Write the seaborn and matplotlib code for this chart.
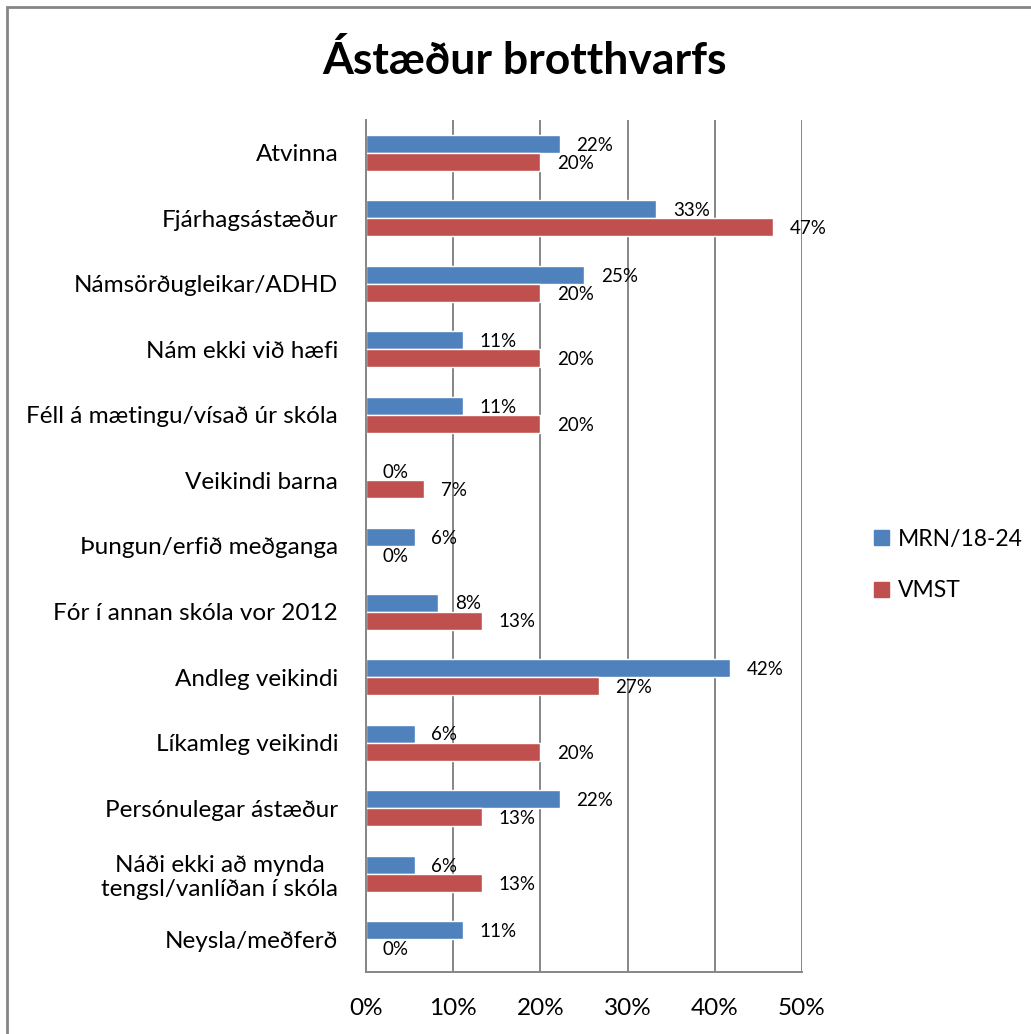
import matplotlib
matplotlib.use("Agg")
import matplotlib.pyplot as plt
import seaborn as sns
import pandas as pd
from matplotlib.patches import Rectangle

# ── data ─────────────────────────────────────────────────────
categories = [
    "Atvinna",
    "Fjárhagsástæður",
    "Námsörðugleikar/ADHD",
    "Nám ekki við hæfi",
    "Féll á mætingu/vísað úr skóla",
    "Veikindi barna",
    "Þungun/erfið meðganga",
    "Fór í annan skóla vor 2012",
    "Andleg veikindi",
    "Líkamleg veikindi",
    "Persónulegar ástæður",
    "Náði ekki að mynda\ntengsl/vanlíðan í skóla",
    "Neysla/meðferð",
]
mrn = [22.2, 33.3, 25.0, 11.1, 11.1, 0.0, 5.6, 8.3, 41.7, 5.6, 22.2, 5.6, 11.1]
vmst = [20.0, 46.7, 20.0, 20.0, 20.0, 6.7, 0.0, 13.3, 26.7, 20.0, 13.3, 13.3, 0.0]
series = ["MRN/18-24", "VMST"]
colors = ["#4F81BD", "#C0504D"]
x_ticks = [0, 10, 20, 30, 40, 50]

df = pd.DataFrame({
    "cat": categories * 2,
    "val": mrn + vmst,
    "series": [series[0]] * len(categories) + [series[1]] * len(categories),
})

# ── style ────────────────────────────────────────────────────
sns.set_theme(style="white")
plt.rcParams["font.family"] = ["Lato", "DejaVu Sans"]
plt.rcParams["text.color"] = "black"
plt.rcParams["xtick.color"] = "black"
plt.rcParams["ytick.color"] = "black"

fig = plt.figure(figsize=(10.31, 10.34), dpi=100)
ax = fig.add_axes([366 / 1031, 1 - 972 / 1034, (802 - 366) / 1031, (972 - 120) / 1034])

sns.barplot(data=df, y="cat", x="val", hue="series", order=categories,
            hue_order=series, palette=colors, width=0.55, orient="h",
            saturation=1, ax=ax, legend=True)

ax.set_xlim(0, 50)
ax.set_xticks(x_ticks)
ax.set_xticklabels([f"{t}%" for t in x_ticks], fontsize=17.5)
ax.tick_params(axis="x", length=0, pad=19)
ax.tick_params(axis="y", length=0, pad=20, labelsize=17.5)
for lbl in ax.get_yticklabels():
    lbl.set_multialignment("center")
ax.set_xlabel("")
ax.set_ylabel("")

ax.grid(axis="x", color="#868686", linewidth=1.4)
ax.set_axisbelow(True)
for side in ["top", "right"]:
    ax.spines[side].set_visible(False)
for side in ["left", "bottom"]:
    ax.spines[side].set_color("#868686")
    ax.spines[side].set_linewidth(1.4)

# data labels
for cont in ax.containers:
    for bar in cont:
        w = bar.get_width()
        yc = bar.get_y() + bar.get_height() / 2
        ax.annotate(f"{round(w):.0f}%", (w, yc), xytext=(12, -1),
                    textcoords="offset points", ha="left", va="center",
                    fontsize=13.5, color="black")

# legend
ax.legend_.remove()
handles = [Rectangle((0, 0), 1, 1, color=c) for c in colors]
fig.legend(handles, series, loc="center left",
           bbox_to_anchor=(865 / 1031, 1 - 565 / 1034), frameon=False,
           fontsize=16.5, handlelength=0.65, handleheight=0.65,
           handletextpad=0.4, labelspacing=1.35, borderaxespad=0)

fig.text(524 / 1031, 1 - 60 / 1034, "Ástæður brotthvarfs", ha="center",
         va="center", fontsize=32, fontweight="bold", color="black")

# outer frame (chart border, cut by the image edge)
fig.patches.append(Rectangle((7 / 1031, -0.05), 1.2, 1 - 7 / 1034 + 0.05,
                             transform=fig.transFigure, fill=False,
                             edgecolor="#868686", linewidth=2))

fig.savefig("out.png", dpi=100)
